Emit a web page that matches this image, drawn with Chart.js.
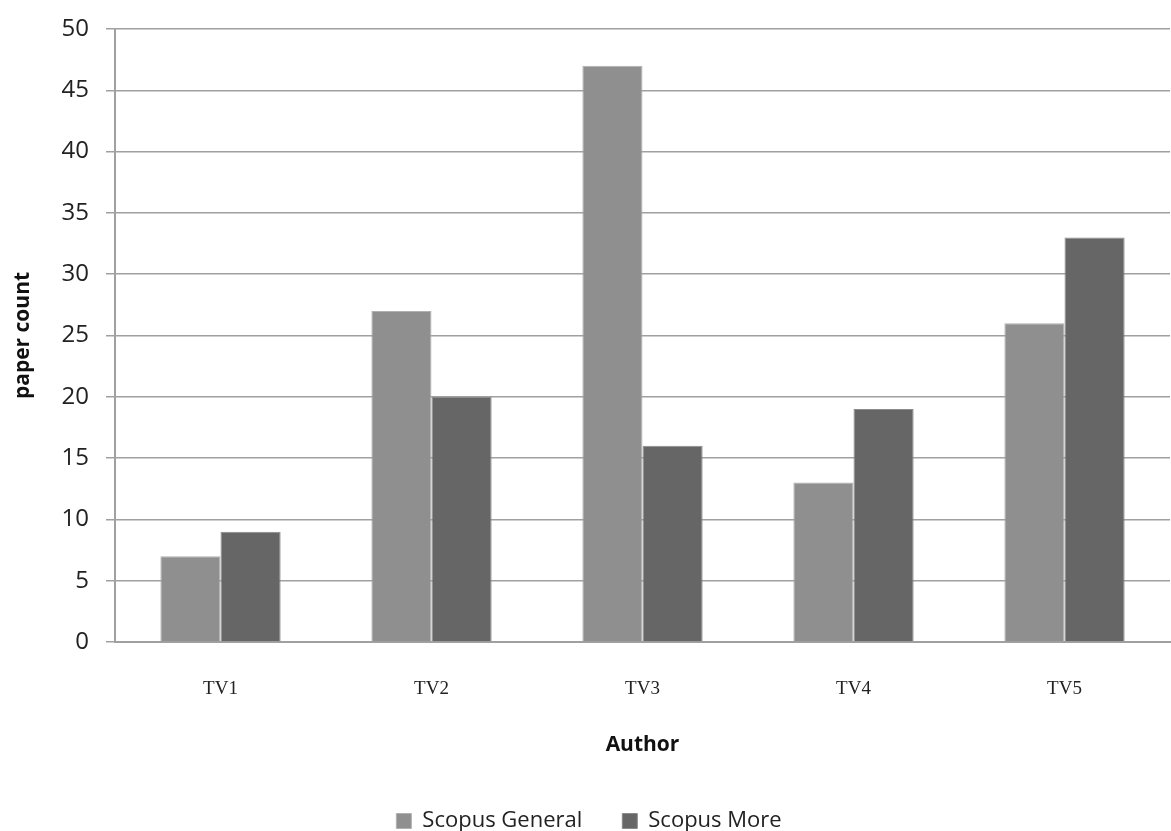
<!DOCTYPE html>
<html>
<head>
<meta charset="utf-8">
<script src="https://cdn.jsdelivr.net/npm/chart.js@4/dist/chart.umd.min.js"></script>
<style>
  html, body { margin: 0; padding: 0; background: #fff; }
  #wrap { width: 1171px; height: 831px; }
</style>
</head>
<body>
<div id="wrap"><canvas id="paperChart"></canvas></div>
<script>
var authors = ['TV1', 'TV2', 'TV3', 'TV4', 'TV5'];
var scopusGeneral = [7, 27, 47, 13, 26];
var scopusMore = [9, 20, 16, 19, 33];

var ctx = document.getElementById('paperChart').getContext('2d');
var chart = new Chart(ctx, {
    type: 'bar',
    data: {
        labels: authors,
        datasets: [{
            label: 'Scopus General',
            backgroundColor: '#8f8f8f',
            borderColor: '#b0b0b0',
            borderWidth: 1,
            data: scopusGeneral
        }, {
            label: 'Scopus More',
            backgroundColor: '#666666',
            borderColor: '#8a8a8a',
            borderWidth: 1,
            data: scopusMore
        }]
    },
    options: {
        responsive: true,
        maintainAspectRatio: false,
        animation: false,
        layout: { padding: { top: -3, right: 1, bottom: -11, left: 8 } },
        datasets: { bar: { categoryPercentage: 0.57, barPercentage: 1.0 } },
        plugins: {
            tooltip: { enabled: false },
            legend: {
                position: 'bottom',
                labels: {
                    color: '#222',
                    font: { family: 'Open Sans', size: 22 },
                    boxWidth: 15,
                    boxHeight: 15,
                    padding: 40
                }
            }
        },
        scales: {
            x: {
                grid: { display: false },
                border: { color: '#a0a0a0', width: 2 },
                ticks: {
                    color: '#222',
                    font: { family: 'Liberation Serif', size: 19 },
                    padding: 28
                },
                title: {
                    display: true,
                    text: 'Author',
                    color: '#111',
                    font: { family: 'Open Sans', size: 21, weight: 'bold' },
                    padding: { top: 4, bottom: 12 }
                }
            },
            y: {
                min: 0,
                max: 50,
                ticks: {
                    stepSize: 5,
                    color: '#222',
                    font: { family: 'Open Sans', size: 24, lineHeight: 1.0 },
                    padding: 17
                },
                grid: {
                    color: '#a0a0a0',
                    lineWidth: 1.5,
                    tickLength: 9
                },
                border: { color: '#a0a0a0', width: 2 },
                title: {
                    display: true,
                    text: 'paper count',
                    color: '#111',
                    font: { family: 'Open Sans', size: 21, weight: 'bold' },
                    padding: { top: 2, bottom: 24 }
                },
                afterFit: function (axis) { axis.width = 107; }
            }
        }
    }
});
</script>
</body>
</html>
